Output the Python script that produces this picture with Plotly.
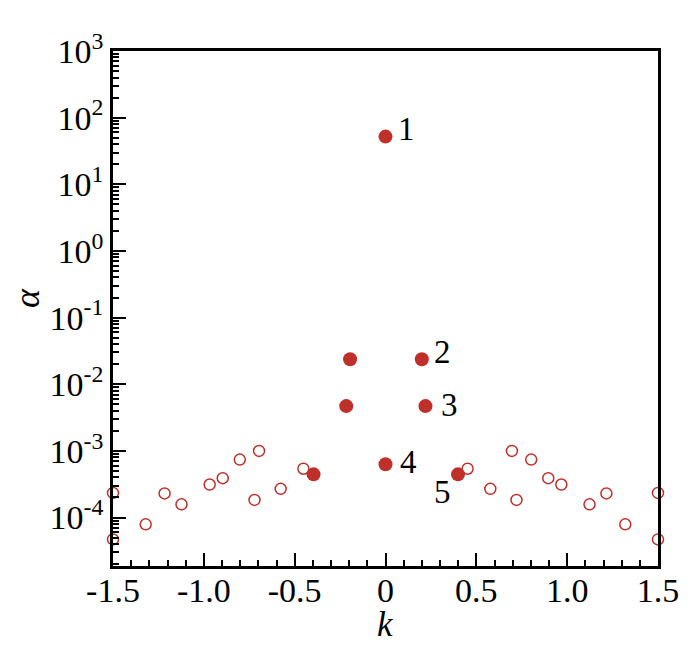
import math
import plotly.graph_objects as go

# open circles: k and alpha
open_k = [-1.5, -1.5, -1.32, -1.216, -1.123, -0.968, -0.896, -0.802, -0.696, -0.721, -0.577, -0.452,
          0.452, 0.577, 0.696, 0.721, 0.802, 0.896, 0.968, 1.123, 1.216, 1.32, 1.5, 1.5]
open_alpha = [2.34e-4, 4.7e-5, 7.9e-5, 2.3e-4, 1.58e-4, 3.13e-4, 3.9e-4, 7.4e-4, 1.0e-3, 1.84e-4, 2.7e-4, 5.4e-4,
              5.4e-4, 2.7e-4, 1.0e-3, 1.84e-4, 7.4e-4, 3.9e-4, 3.13e-4, 1.58e-4, 2.3e-4, 7.9e-5, 2.34e-4, 4.7e-5]

# filled circles
mode_k = [0.0, -0.195, 0.2, -0.216, 0.22, 0.0, -0.396, 0.399]
mode_alpha = [52.0, 0.0237, 0.0237, 4.7e-3, 4.7e-3, 6.3e-4, 4.45e-4, 4.45e-4]

# numbered modes (index into filled arrays) and label offsets in px
label_text = ["1", "2", "3", "4", "5"]
label_idx = [0, 2, 4, 5, 7]
label_dx = [21, 21, 24, 23, -15]
label_dy = [8, 7, 1, 2, -18]

x_ticks = [-1.5, -1.0, -0.5, 0, 0.5, 1.0, 1.5]
x_ticktext = ["-1.5", "-1.0", "-0.5", "0", "0.5", "1.0", "1.5"]
y_ticks = [1e-4, 1e-3, 1e-2, 1e-1, 1e0, 1e1, 1e2, 1e3]
y_ticktext = ["10<sup>-4</sup>", "10<sup>-3</sup>", "10<sup>-2</sup>", "10<sup>-1</sup>",
              "10<sup>0</sup>", "10<sup>1</sup>", "10<sup>2</sup>", "10<sup>3</sup>"]

red = "#c0302a"
serif = "Liberation Serif"

fig = go.Figure()
fig.add_trace(go.Scatter(
    x=open_k, y=open_alpha, mode="markers", cliponaxis=False,
    marker=dict(symbol="circle-open", size=11, color=red, line=dict(width=1.5, color=red)),
    showlegend=False
))
fig.add_trace(go.Scatter(
    x=mode_k, y=mode_alpha, mode="markers", cliponaxis=False,
    marker=dict(symbol="circle", size=14, color=red, line=dict(width=0)),
    showlegend=False
))

for t, i, dx, dy in zip(label_text, label_idx, label_dx, label_dy):
    fig.add_annotation(x=mode_k[i], y=math.log10(mode_alpha[i]),
                       text=t, showarrow=False, xshift=dx, yshift=dy,
                       font=dict(family=serif, size=33, color="black"))

# axis titles placed by hand so they sit where the reference has them
fig.add_annotation(text="<i>k</i>", xref="paper", yref="paper", x=0.5, y=-0.113,
                   xanchor="center", yanchor="middle", showarrow=False,
                   font=dict(family=serif, size=35, color="black"))
fig.add_annotation(text="<i>α</i>", xref="paper", yref="paper", x=-0.158, y=0.52,
                   xanchor="center", yanchor="middle", showarrow=False, textangle=-90,
                   font=dict(family=serif, size=36, color="black"))

axis_common = dict(
    showline=True, linecolor="black", linewidth=2.5, mirror=True,
    showgrid=False, zeroline=False,
    ticks="inside", tickcolor="black", tickwidth=2,
    tickfont=dict(family=serif, size=34, color="black"),
)

fig.update_xaxes(
    range=[-1.5, 1.5], tickvals=x_ticks, ticktext=x_ticktext, ticklen=13,
    ticklabelstandoff=-8,
    minor=dict(dtick=0.1, ticks="inside", ticklen=6, tickwidth=1.5, tickcolor="black"),
    **axis_common
)
fig.update_yaxes(
    type="log", range=[-4.727, 3], tickvals=y_ticks, ticktext=y_ticktext, ticklen=13,
    minor=dict(dtick="D1", ticks="inside", ticklen=6, tickwidth=1.5, tickcolor="black"),
    **axis_common
)

fig.update_layout(
    width=700, height=646,
    margin=dict(l=105, r=50, t=43, b=88, autoexpand=False),
    plot_bgcolor="white", paper_bgcolor="white",
)

fig.write_html("out.html")
